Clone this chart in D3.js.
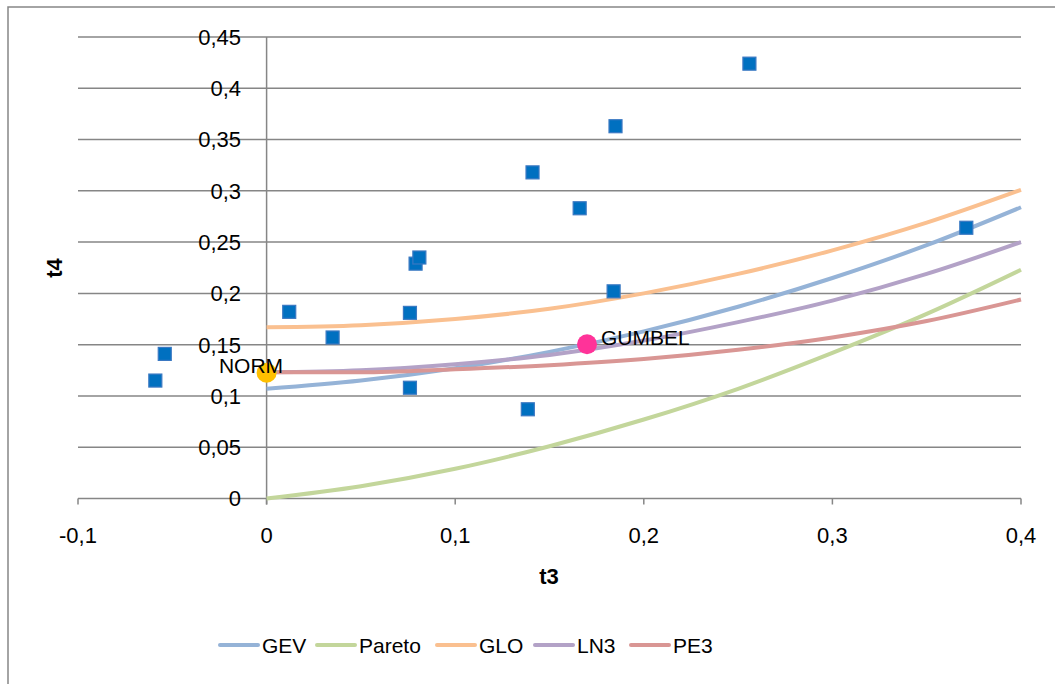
<!DOCTYPE html>
<html>
<head>
<meta charset="utf-8">
<script src="https://cdn.jsdelivr.net/npm/d3@7"></script>
<style>
  body { margin: 0; background: #fff; }
  svg { font-family: "Liberation Sans", Arial, sans-serif; }
</style>
</head>
<body>
<div id="chart"></div>
<script>
// observed sample points (t3, t4)
var obsT3 = [-0.059, -0.054, 0.012, 0.035, 0.076, 0.079, 0.081, 0.076, 0.1385, 0.141, 0.166, 0.184, 0.185, 0.256, 0.371];
var obsT4 = [0.115, 0.141, 0.182, 0.157, 0.181, 0.229, 0.235, 0.108, 0.087, 0.318, 0.283, 0.202, 0.363, 0.424, 0.264];

// theoretical curves
var curveT3 = [0, 0.05, 0.1, 0.15, 0.2, 0.25, 0.3, 0.35, 0.4];
var gev    = [0.107, 0.115, 0.127, 0.143, 0.163, 0.187, 0.215, 0.247, 0.284];
var pareto = [0.000, 0.012, 0.029, 0.051, 0.077, 0.107, 0.142, 0.180, 0.223];
var glo    = [0.167, 0.169, 0.175, 0.185, 0.200, 0.219, 0.242, 0.269, 0.301];
var ln3    = [0.123, 0.125, 0.131, 0.140, 0.154, 0.172, 0.193, 0.219, 0.250];
var pe3    = [0.123, 0.123, 0.126, 0.130, 0.136, 0.145, 0.157, 0.173, 0.194];

var seriesNames = ["GEV", "Pareto", "GLO", "LN3", "PE3"];
var seriesColors = ["#95b3d7", "#c3d69b", "#fac090", "#b3a2c7", "#d99694"];
var seriesData = [gev, pareto, glo, ln3, pe3];

// special points
var pointNames = ["NORM", "GUMBEL"];
var pointT3 = [0, 0.1699];
var pointT4 = [0.1226, 0.1504];
var pointColors = ["#ffc000", "#ff3399"];

var xTicks = [-0.1, 0, 0.1, 0.2, 0.3, 0.4];
var yTicks = [0, 0.05, 0.1, 0.15, 0.2, 0.25, 0.3, 0.35, 0.4, 0.45];

var width = 1055, height = 684;
var fmt = function(v) { return String(+v.toFixed(2)).replace(".", ","); };

var svg = d3.select("#chart").append("svg")
    .attr("width", width)
    .attr("height", height);

// chart border
svg.append("rect")
    .attr("x", 8).attr("y", 7)
    .attr("width", 1100).attr("height", 700)
    .attr("fill", "none")
    .attr("stroke", "#868686")
    .attr("stroke-width", 1.5);

var x = d3.scaleLinear().domain([-0.1, 0.4]).range([78, 1021]);
var y = d3.scaleLinear().domain([0, 0.45]).range([498.5, 37]);

// horizontal gridlines
svg.append("g")
    .selectAll("line")
    .data(yTicks)
    .enter()
    .append("line")
    .attr("x1", x(-0.1)).attr("x2", x(0.4))
    .attr("y1", function(d) { return y(d); })
    .attr("y2", function(d) { return y(d); })
    .attr("stroke", "#868686")
    .attr("stroke-width", 1.5);

// vertical axis at t3 = 0
svg.append("line")
    .attr("x1", x(0)).attr("x2", x(0))
    .attr("y1", y(0.45)).attr("y2", y(0) + 6)
    .attr("stroke", "#868686")
    .attr("stroke-width", 1.5);

// x axis ticks
svg.append("g")
    .selectAll("line")
    .data(xTicks)
    .enter()
    .append("line")
    .attr("x1", function(d) { return x(d); })
    .attr("x2", function(d) { return x(d); })
    .attr("y1", y(0)).attr("y2", y(0) + 6)
    .attr("stroke", "#868686")
    .attr("stroke-width", 1.5);

// y tick labels
svg.append("g")
    .selectAll("text")
    .data(yTicks)
    .enter()
    .append("text")
    .attr("x", 241)
    .attr("y", function(d) { return y(d); })
    .attr("dy", "0.36em")
    .attr("text-anchor", "end")
    .style("font-size", "22px")
    .text(fmt);

// x tick labels
svg.append("g")
    .selectAll("text")
    .data(xTicks)
    .enter()
    .append("text")
    .attr("x", function(d) { return x(d); })
    .attr("y", 535)
    .attr("dy", "0.36em")
    .attr("text-anchor", "middle")
    .style("font-size", "22px")
    .text(fmt);

// axis titles
svg.append("text")
    .attr("x", 549).attr("y", 576)
    .attr("dy", "0.36em")
    .attr("text-anchor", "middle")
    .style("font-size", "22px")
    .style("font-weight", "bold")
    .text("t3");

svg.append("text")
    .attr("transform", "translate(54,268) rotate(-90)")
    .attr("dy", "0.36em")
    .attr("text-anchor", "middle")
    .style("font-size", "22px")
    .style("font-weight", "bold")
    .text("t4");

// curves
var line = d3.line()
    .x(function(d) { return x(d[0]); })
    .y(function(d) { return y(d[1]); })
    .curve(d3.curveMonotoneX);

seriesData.forEach(function(vals, i) {
    svg.append("path")
        .datum(curveT3.map(function(t, j) { return [t, vals[j]]; }))
        .attr("d", line)
        .attr("fill", "none")
        .attr("stroke", seriesColors[i])
        .attr("stroke-width", 4);
});

// observed points
var obs = obsT3.map(function(t, i) { return [t, obsT4[i]]; });
svg.append("g")
    .selectAll("rect")
    .data(obs)
    .enter()
    .append("rect")
    .attr("x", function(d) { return x(d[0]) - 6.5; })
    .attr("y", function(d) { return y(d[1]) - 6.5; })
    .attr("width", 13).attr("height", 13)
    .attr("fill", "#0070c0")
    .attr("stroke", "#3a78c2")
    .attr("stroke-width", 1.2);

// NORM and GUMBEL
pointNames.forEach(function(name, i) {
    svg.append("circle")
        .attr("cx", x(pointT3[i]))
        .attr("cy", y(pointT4[i]))
        .attr("r", 10)
        .attr("fill", pointColors[i]);
});

svg.append("text")
    .attr("x", 251).attr("y", 365)
    .attr("dy", "0.36em")
    .attr("text-anchor", "middle")
    .style("font-size", "21px")
    .text(pointNames[0]);

svg.append("text")
    .attr("x", 601).attr("y", 337)
    .attr("dy", "0.36em")
    .style("font-size", "21px")
    .text(pointNames[1]);

// legend
var legendX = [220, 317, 437, 535, 631];
var legend = svg.append("g");
seriesNames.forEach(function(name, i) {
    legend.append("line")
        .attr("x1", legendX[i]).attr("x2", legendX[i] + 38)
        .attr("y1", 645).attr("y2", 645)
        .attr("stroke", seriesColors[i])
        .attr("stroke-width", 4)
        .attr("stroke-linecap", "round");
    legend.append("text")
        .attr("x", legendX[i] + 42).attr("y", 645)
        .attr("dy", "0.36em")
        .style("font-size", "21px")
        .text(name);
});
</script>
</body>
</html>
